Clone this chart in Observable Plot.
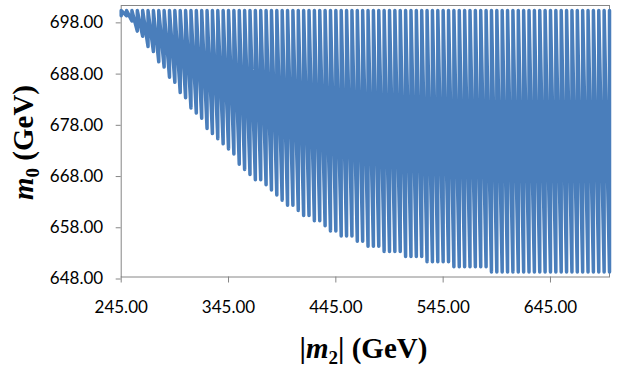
<!DOCTYPE html>
<html>
<head>
<meta charset="utf-8">
<script src="https://cdn.jsdelivr.net/npm/d3@7"></script>
<script src="https://cdn.jsdelivr.net/npm/@observablehq/plot@0.6"></script>
<style>
  html, body { margin: 0; padding: 0; background: #fff; }
  #chart { width: 621px; height: 374px; }
  #chart svg [aria-label="x-axis tick"] path,
  #chart svg [aria-label="y-axis tick"] path { stroke: #868686; }
</style>
</head>
<body>
<div id="chart"></div>
<script>
// |m2| values (GeV), one vertical scan per value
const m2Values = [245, 250, 255, 260, 265, 270, 275, 280, 285, 290, 295, 300, 305, 310, 315, 320,
  325, 330, 335, 340, 345, 350, 355, 360, 365, 370, 375, 380, 385, 390, 395, 400, 405, 410, 415,
  420, 425, 430, 435, 440, 445, 450, 455, 460, 465, 470, 475, 480, 485, 490, 495, 500, 505, 510,
  515, 520, 525, 530, 535, 540, 545, 550, 555, 560, 565, 570, 575, 580, 585, 590, 595, 600, 605,
  610, 615, 620, 625, 630, 635, 640, 645, 650, 655, 660, 665, 670, 675, 680, 685, 690, 695, 700];
// lowest m0 reached for each |m2| (GeV)
const m0Lower = [699, 699, 698, 696, 695, 693, 692, 690, 689, 687, 686, 684, 683, 681, 680, 679,
  677, 676, 675, 674, 673, 672, 670, 669, 668, 667, 667, 666, 665, 664, 663, 662, 662, 661, 660,
  660, 659, 659, 658, 657, 657, 656, 656, 656, 655, 655, 654, 654, 654, 653, 653, 653, 653, 652,
  652, 652, 652, 651, 651, 651, 651, 651, 650, 650, 650, 650, 650, 650, 650, 649, 649, 649, 649,
  649, 649, 649, 649, 649, 649, 649, 649, 649, 649, 649, 649, 649, 649, 649, 649, 649, 649, 649];
// highest m0 reached for every |m2| (GeV)
const m0Upper = 700;
const xTicks = [245, 345, 445, 545, 645];
const yTicks = [648, 658, 668, 678, 688, 698];

const rows = m2Values.flatMap((x, i) => [
  {m2: x, m0: m0Lower[i]},
  {m2: x, m0: m0Upper}
]);

const fmt = d3.format(".2f");

const chart = Plot.plot({
  width: 621,
  height: 374,
  marginLeft: 120.7,
  marginRight: 12,
  marginTop: 5,
  marginBottom: 97.5,
  style: {fontFamily: "Lato, 'Liberation Sans', sans-serif", fontSize: "17px", color: "#000", background: "#fff"},
  x: {domain: [245, 700]},
  y: {domain: [648, 701]},
  marks: [
    Plot.frame({stroke: "#868686"}),
    Plot.axisX({ticks: xTicks, tickFormat: fmt, tickSize: 6, tickPadding: 18, label: null, fontSize: 17}),
    Plot.axisY({ticks: yTicks, tickFormat: fmt, tickSize: 5, tickPadding: 13, label: null, fontSize: 17, dy: 2}),
    Plot.line(rows, {x: "m2", y: "m0", stroke: "#4a7ebb", strokeWidth: 3.5, strokeLinejoin: "round", strokeLinecap: "round"})
  ]
});

document.getElementById("chart").appendChild(chart);

const svg = d3.select(chart);
const titleFont = "'Liberation Serif', 'Times New Roman', serif";

// x-axis title: |m2| (GeV)
const xt = svg.append("text")
  .attr("x", 363.5).attr("y", 357.5)
  .attr("text-anchor", "middle")
  .attr("font-family", titleFont)
  .attr("font-size", 29)
  .attr("font-weight", "bold")
  .attr("fill", "#000");
xt.append("tspan").text("|");
xt.append("tspan").attr("font-style", "italic").text("m");
xt.append("tspan").attr("font-size", 19).attr("dy", 6).text("2");
xt.append("tspan").attr("dy", -6).text("| (GeV)");

// y-axis title: m0 (GeV)
const yt = svg.append("text")
  .attr("transform", "translate(33,142.5) rotate(-90)")
  .attr("text-anchor", "middle")
  .attr("font-family", titleFont)
  .attr("font-size", 29)
  .attr("font-weight", "bold")
  .attr("fill", "#000");
yt.append("tspan").attr("font-style", "italic").text("m");
yt.append("tspan").attr("font-size", 19).attr("dy", 6).text("0");
yt.append("tspan").attr("dy", -6).text(" (GeV)");
</script>
</body>
</html>
